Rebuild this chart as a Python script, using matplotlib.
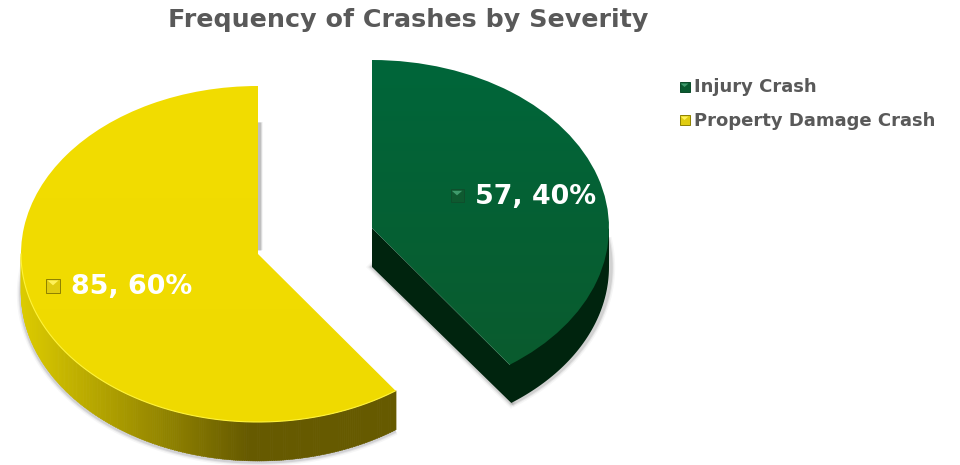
import numpy as np
import matplotlib
matplotlib.use("Agg")
import matplotlib.pyplot as plt
from matplotlib.patches import Wedge, Polygon, Rectangle
from matplotlib.transforms import Affine2D
from matplotlib.colors import LinearSegmentedColormap, to_rgb

categories = ["Injury Crash", "Property Damage Crash"]
values = [57, 85]
percents = [40, 60]
title = "Frequency of Crashes by Severity"

W, H = 960, 465
RX, RY, DEPTH = 237, 168, 39
GREY = "#595959"


def mix(c1, c2, t):
    a, b = np.array(to_rgb(c1)), np.array(to_rgb(c2))
    return tuple(a + (b - a) * t)


def edge(cx, cy, a1, a2, n=200):
    t = np.radians(np.linspace(a1, a2, n))
    return cx + RX * np.cos(t), cy + RY * np.sin(t)


def top_face(ax, cx, cy, a1, a2, cmap):
    tr = Affine2D().scale(RX, RY).translate(cx, cy) + ax.transData
    w = Wedge((0, 0), 1, a1, a2, transform=tr, fc="none", ec="none", zorder=4)
    ax.add_patch(w)
    grad = np.linspace(0, 1, 256).reshape(-1, 1)
    im = ax.imshow(grad, cmap=cmap, extent=[cx - RX, cx + RX, cy - RY, cy + RY],
                   origin="upper", aspect="auto", zorder=4)
    im.set_clip_path(w)


def bevel_marker(ax, x, y, s, light, mid, dark):
    y = H - y
    ax.add_patch(Rectangle((x - s, y - s), 2 * s, 2 * s, fc=mid, ec=dark, lw=0.7, zorder=8))
    ax.add_patch(Polygon([[x - s * 0.8, y + s * 0.8], [x + s * 0.8, y + s * 0.8], [x, y + s * 0.1]],
                         fc=light, ec="none", zorder=8))


fig = plt.figure(figsize=(W / 100, H / 100), dpi=100)
ax = fig.add_axes([0, 0, 1, 1])

ang = np.array(values) / sum(values) * 360
# injury slice goes clockwise from 12 o'clock, property the rest of the way
green_a = (90 - ang[0], 90)
yellow_a = (90, 90 + ang[1])
gx, gy = 372, H - 228
yx, yy = 258, H - 254

# soft shadows
for lw, al in [(6, 0.05), (4, 0.09), (2.5, 0.14)]:
    x, y = edge(yx, yy - DEPTH, 170, yellow_a[1])
    ax.plot(x, y - 1, color="#505060", lw=lw, alpha=al, zorder=1, solid_capstyle="butt")
    x, y = edge(gx, gy - DEPTH, green_a[0], 10)
    ax.plot(x + 2, y, color="#505050", lw=lw, alpha=al, zorder=1, solid_capstyle="butt")
    ax.plot([gx, gx + 139], [gy - DEPTH, gy - 136 - DEPTH], color="#505050", lw=lw, alpha=al, zorder=1)
    ax.plot([yx + 1, yx + 1], [yy + 4, H - 122], color="#404040", lw=lw * 0.9, alpha=al * 1.3, zorder=1,
            solid_capstyle="butt")

# yellow outer wall, shaded by x position
xs, ys = edge(yx, yy, 180, yellow_a[1], 240)
for i in range(len(xs) - 1):
    t = np.clip((xs[i] - 22) / 225, 0, 1)
    c = mix("#dccb00", "#665a00", t)
    ax.add_patch(Polygon([[xs[i], ys[i]], [xs[i + 1] + 0.5, ys[i + 1]],
                          [xs[i + 1] + 0.5, ys[i + 1] - DEPTH], [xs[i], ys[i] - DEPTH]],
                         fc=c, ec=c, lw=0.3, zorder=2))

# green wall and cut face
xs, ys = edge(gx, gy, green_a[0], 0)
pts = [[gx, gy], [gx, gy - DEPTH]] + [[gx + 139.3, gy - 136 - DEPTH]]
pts += [[a, b - DEPTH] for a, b in zip(xs, ys)] + [[xs[-1], ys[-1]]] + [[xs[0], ys[0]]]
ax.add_patch(Polygon(pts, fc="#00240e", ec="none", zorder=2))

top_face(ax, yx, yy, yellow_a[0], yellow_a[1],
         LinearSegmentedColormap.from_list("y", ["#f2dd00", "#efda00"]))
top_face(ax, gx, gy, green_a[0], green_a[1],
         LinearSegmentedColormap.from_list("g", ["#00663a", "#0b5a2d"]))

# thin bright rim on yellow
x, y = edge(yx, yy, 180, yellow_a[1])
ax.plot(x, y, color="#fff33a", lw=0.8, zorder=5)

ax.text(408, H - 20, title, color=GREY, fontsize=18.3, fontweight="bold",
        family="DejaVu Sans", ha="center", va="center")

ax.text(475, H - 197, f"{values[0]}, {percents[0]}%", color="white", fontsize=19.4,
        fontweight="bold", family="DejaVu Sans", va="center", zorder=9)
ax.text(71, H - 287, f"{values[1]}, {percents[1]}%", color="white", fontsize=19.4,
        fontweight="bold", family="DejaVu Sans", va="center", zorder=9)
bevel_marker(ax, 457, 196, 6.5, "#3f9a6c", "#0e5a30", "#0f4f2c")
bevel_marker(ax, 53, 286, 7, "#fff25a", "#e0cc10", "#8d8000")

ax.text(694, H - 87, categories[0], color=GREY, fontsize=13.0, fontweight="bold",
        family="DejaVu Sans", va="center")
ax.text(694, H - 121, categories[1], color=GREY, fontsize=13.0, fontweight="bold",
        family="DejaVu Sans", va="center")
bevel_marker(ax, 684.5, 87.5, 5, "#3f9a6c", "#0a5a30", "#0a4a28")
bevel_marker(ax, 684.5, 120.5, 5, "#fff25a", "#e0cc10", "#8d8000")

ax.set_xlim(0, W)
ax.set_ylim(0, H)
ax.axis("off")
fig.savefig("out.png", dpi=100, facecolor="white")
